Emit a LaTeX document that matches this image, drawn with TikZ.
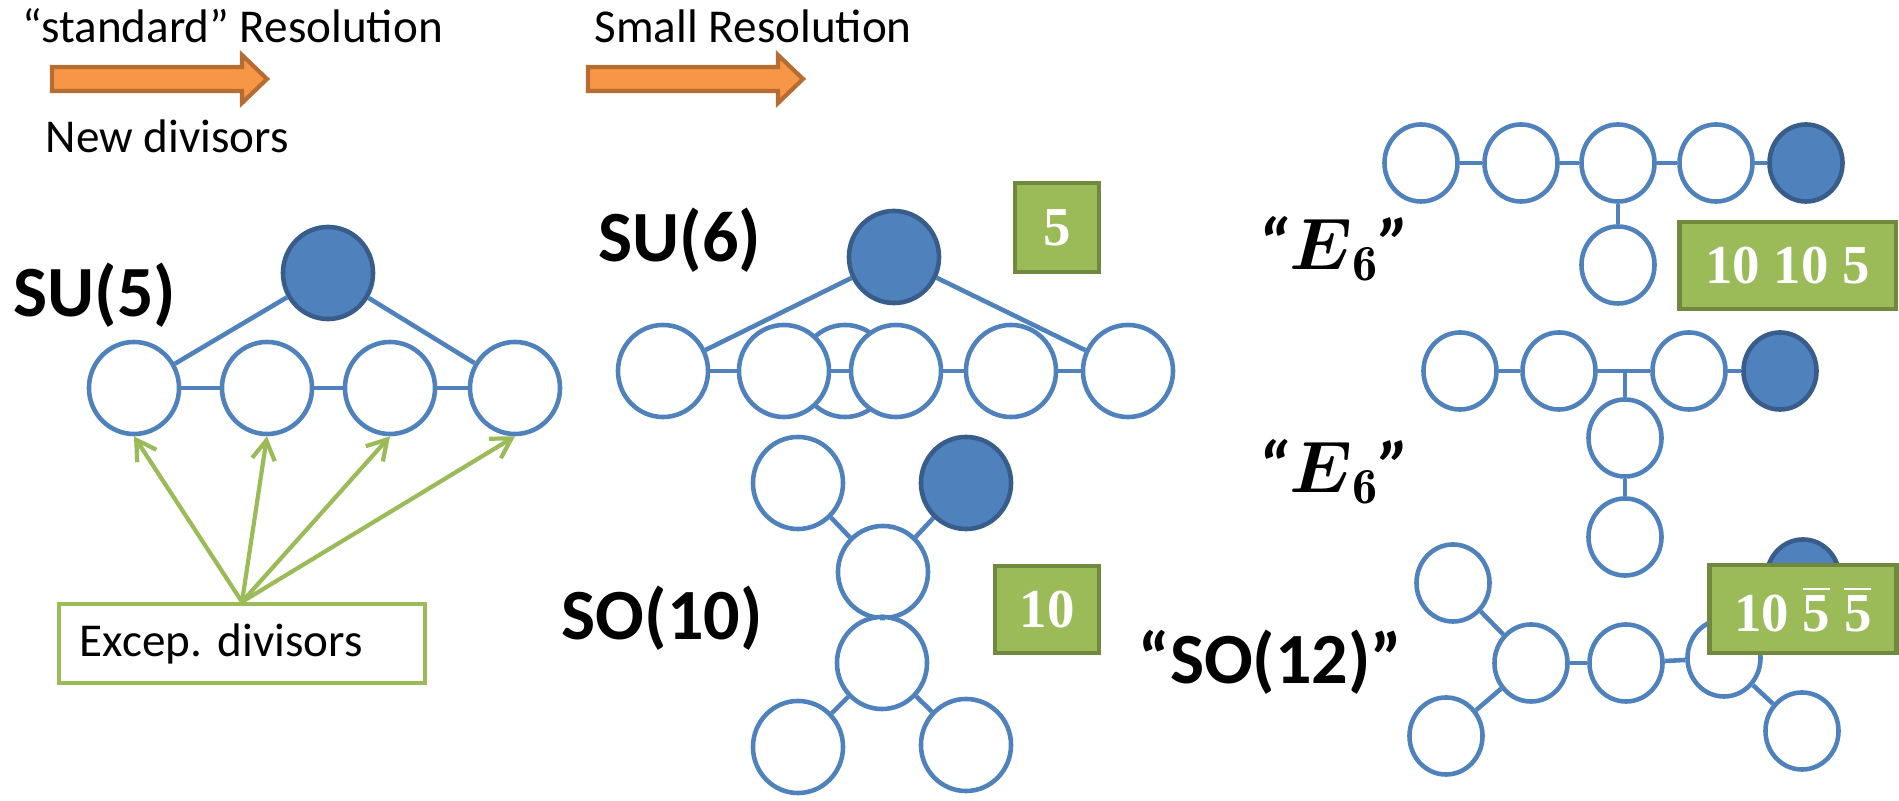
\documentclass[tikz,border=0pt]{standalone}
\usepackage{fontspec}
\usepackage{amsmath}
\setsansfont{Carlito}
\newfontfamily\repfont{Liberation Serif}
\usetikzlibrary{shapes.geometric,arrows.meta}

\definecolor{dynblue}{HTML}{4F81BD}
\definecolor{dynblueedge}{HTML}{385D8A}
\definecolor{repgreen}{HTML}{9BBB59}
\definecolor{repgreenedge}{HTML}{71893F}
\definecolor{resorange}{HTML}{F79646}
\definecolor{resorangeedge}{HTML}{B66D31}

\tikzset{
  nd/.style={ellipse, draw=dynblue, fill=white, line width=1.3pt,
    minimum width=0.90cm, minimum height=0.92cm, inner sep=0pt},
  ndsmall/.style={nd, minimum width=0.73cm, minimum height=0.77cm},
  ndf/.style={fill=dynblue, draw=dynblueedge},
  link/.style={draw=dynblue, line width=1.3pt},
  lbl/.style={font=\sffamily\fontsize{13.4}{16}\selectfont, inner sep=0pt},
  grp/.style={font=\sffamily\bfseries\fontsize{20.5}{24}\selectfont, inner sep=0pt},
  egrp/.style={font=\fontsize{20.5}{24}\selectfont, inner sep=0pt},
  repbox/.style={rectangle, fill=repgreen, draw=repgreenedge, line width=1.3pt,
    text=white, font=\repfont\bfseries\fontsize{15.6}{18}\selectfont, inner sep=0pt},
  resarrow/.style={fill=resorange, draw=resorangeedge, line width=1.2pt, line join=miter},
  divarrow/.style={draw=repgreen, line width=1.2pt,
    -{Straight Barb[length=5.5pt,width=6.5pt]}},
  divbox/.style={rectangle, draw=repgreen, line width=1.2pt, fill=white,
    minimum width=3.66cm, minimum height=0.79cm, inner xsep=0.21cm,
    text width=3.24cm, align=left, font=\sffamily\fontsize{13.4}{16}\selectfont}
}

\newcommand{\esix}{{\sffamily\bfseries\itshape “}$\boldsymbol{E}_{\mathbf{6}}${\sffamily\bfseries\itshape ”}}
\newcommand{\barfive}{$\overline{\hbox{5}}$}

\begin{document}
\begin{tikzpicture}[x=0.01cm, y=-0.01cm]
\useasboundingbox (0,0) rectangle (1899,801);

% resolution arrows and their captions
\node[lbl, anchor=base west] (std) at (22,43) {“standard” Resolution};
\node[lbl, anchor=base west] (small) at (594,43) {Small Resolution};
\node[lbl, anchor=base west] (newdiv) at (45,153) {New divisors};
\path[resarrow] (52,67) -- (242,67) -- (242,55) -- (267,79) -- (242,103) -- (242,91) -- (52,91) -- cycle;
\path[resarrow] (588,67) -- (778,67) -- (778,55) -- (803,79) -- (778,103) -- (778,91) -- (588,91) -- cycle;

% SU(5): affine A4 with one extra node
\node[grp, anchor=base west] (lsu5) at (13,317) {SU(5)};
\node[nd, ndf] (u0) at (328,273) {};
\node[nd] (u1) at (134,388) {};
\node[nd] (u2) at (267,388) {};
\node[nd] (u3) at (390,388) {};
\node[nd] (u4) at (515,388) {};
\draw[link] (u0) -- (u1);
\draw[link] (u0) -- (u4);
\draw[link] (u1) -- (u2);
\draw[link] (u2) -- (u3);
\draw[link] (u3) -- (u4);
\node[divbox] (exc) at (242,643.5) {Excep.\ divisors};
\draw[divarrow] (exc.north) -- (u1.south);
\draw[divarrow] (exc.north) -- (u2.south);
\draw[divarrow] (exc.north) -- (u3.south);
\draw[divarrow] (exc.north) -- (u4.south);

% SU(6)
\node[grp, anchor=base west] (lsu6) at (598,262) {SU(6)};
\node[nd] (s3) at (845,371) {};
\node[nd, ndf] (s0) at (894,257) {};
\node[nd] (s1) at (663,371) {};
\node[nd] (s2) at (784,371) {};
\node[nd] (s4) at (896,371) {};
\node[nd] (s5) at (1011,371) {};
\node[nd] (s6) at (1128,371) {};
\draw[link] (s0) -- (s1);
\draw[link] (s0) -- (s6);
\draw[link] (s1) -- (s2);
\draw[link] (s2) -- (s4);
\draw[link] (s4) -- (s5);
\draw[link] (s5) -- (s6);
\node[repbox, minimum width=0.84cm, minimum height=0.89cm] (rep5) at (1057,227.5) {5};

% SO(10)
\node[grp, anchor=base west] (lso10) at (561,640) {SO(10)};
\node[nd] (a1) at (798,483) {};
\node[nd, ndf] (a2) at (966,483) {};
\node[nd] (a3) at (883,572) {};
\node[nd] (a4) at (882,663) {};
\node[nd] (a5) at (798,747) {};
\node[nd] (a6) at (966,745) {};
\draw[link] (a1) -- (a3);
\draw[link] (a2) -- (a3);
\draw[link] (a3) -- (a4);
\draw[link] (a4) -- (a5);
\draw[link] (a4) -- (a6);
\node[repbox, minimum width=1.04cm, minimum height=0.87cm] (rep10) at (1047,609.5) {10};

% first "E6"
\node[egrp, anchor=base west] (le6a) at (1257,270) {\esix};
\node[nd, ndsmall] (e1) at (1421,163) {};
\node[nd, ndsmall] (e2) at (1521,163) {};
\node[nd, ndsmall] (e3) at (1618,163) {};
\node[nd, ndsmall] (e4) at (1716,163) {};
\node[nd, ndsmall, ndf] (e5) at (1806,163) {};
\node[nd, ndsmall] (e6) at (1618,265) {};
\draw[link] (e1) -- (e2);
\draw[link] (e2) -- (e3);
\draw[link] (e3) -- (e4);
\draw[link] (e4) -- (e5);
\draw[link] (e3) -- (e6);
\node[repbox, anchor=west, minimum height=0.87cm, inner xsep=0.26cm] (rep1010) at (1677,265.5) {10 10 5};

% second "E6"
\node[egrp, anchor=base west] (le6b) at (1257,493) {\esix};
\node[nd, ndsmall] (f1) at (1460,371) {};
\node[nd, ndsmall] (f2) at (1559,371) {};
\node[nd, ndsmall] (f3) at (1689,371) {};
\node[nd, ndsmall, ndf] (f4) at (1780,371) {};
\node[nd, ndsmall] (f5) at (1625,438) {};
\node[nd, ndsmall] (f6) at (1625,537) {};
\coordinate (fj) at (1625,371);
\draw[link] (f1) -- (f2);
\draw[link] (f2) -- (f3);
\draw[link] (f3) -- (f4);
\draw[link] (fj) -- (f5);
\draw[link] (f5) -- (f6);

% "SO(12)"
\node[grp, anchor=base west] (lso12) at (1138,684) {“SO(12)”};
\node[nd, ndsmall] (g1) at (1453,583) {};
\node[nd, ndsmall] (g2) at (1531,663) {};
\node[nd, ndsmall] (g3) at (1626,663) {};
\node[nd, ndsmall] (g4) at (1724,658) {};
\node[nd, ndsmall] (g5) at (1446,736) {};
\node[nd, ndsmall] (g6) at (1802,731) {};
\node[nd, ndsmall, ndf] (g7) at (1803,578) {};
\draw[link] (g1) -- (g2);
\draw[link] (g5) -- (g2);
\draw[link] (g2) -- (g3);
\draw[link] (g3) -- (g4);
\draw[link] (g4) -- (g6);
\draw[link] (g4) -- (g7);
\node[repbox, anchor=west, minimum height=0.88cm, inner xsep=0.25cm] (rep55) at (1707,609)
  {10 \barfive\ \barfive};

\end{tikzpicture}
\end{document}
